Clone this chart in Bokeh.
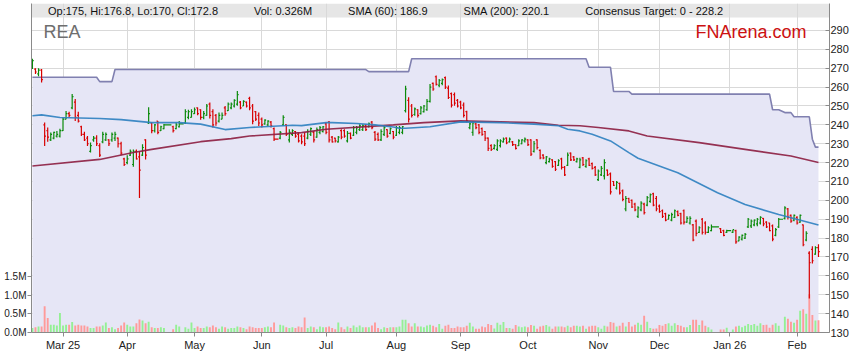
import numpy as np
import pandas as pd
from bokeh.plotting import figure
from bokeh.models import (ColumnDataSource, Range1d, LinearAxis, FixedTicker, BoxAnnotation,
                          Legend, LegendItem, Label, PrintfTickFormatter)
from bokeh.embed import file_html
from bokeh.resources import INLINE

# ---------------- data ----------------
TICKER = "REA"
SITE = "FNArena.com"
FIRST_SESSION = "2025-02-17"
LAST_SESSION = "2026-02-11"
HOLIDAYS = ["2025-04-18", "2025-04-21", "2025-04-25", "2025-06-09",
            "2025-12-25", "2025-12-26", "2026-01-01", "2026-01-26"]

OPEN = [
    270, 269.5, 267, 269, 240, 237, 232, 233, 234, 234,
    237, 243, 246, 249, 252, 245, 239, 235, 233, 226,
    232, 233, 229, 231, 232, 232, 232, 233, 233, 230,
    222, 220, 224, 219, 226, 223, 224, 232, 241, 241,
    237, 242, 237, 238,
    239, 238, 239,
    241, 244, 244, 246, 249, 248, 244, 245, 251, 247,
    245, 242, 243, 249, 247.5, 249, 250, 251, 252, 250,
    252, 254, 250, 247, 245, 243, 240.5, 240, 241.5, 238,
    233, 240, 240, 232, 235, 236.5, 235, 234, 234, 233,
    235, 236, 233.5, 236, 236.5, 240.5, 241.5, 233.5, 233, 231,
    237, 237, 231.5, 235.5, 234.5, 236, 237.5, 237.5, 239.5, 239,
    241.5, 236, 235, 232, 235, 237.5, 235.5, 236.5, 234.5, 236,
    236, 247.5, 253, 250, 245.5, 248, 246, 247, 248, 252.5,
    262, 265.5, 261, 262, 265, 259.5, 256.5, 256, 253, 252,
    250.5, 247, 238.5, 236, 240.5, 240, 238, 236.5, 233, 229,
    227.5, 227, 229, 231, 233, 231, 231, 229.5, 229, 230,
    231.5, 232, 232, 226, 232, 226.5, 224, 220, 220.5, 221.5,
    220.5, 218.5, 222, 217.5, 218.5, 225, 223, 220.5, 217.5, 222.5,
    218, 222, 219.5, 217.5, 211, 213.5, 213, 216, 214, 210,
    206.5, 209, 205, 195.5, 201, 200, 198, 191.5, 195, 198,
    197.5, 199.5, 203.5, 201, 197, 194.5, 193, 190, 189.5, 191,
    194, 193, 194.5, 188.5, 188, 187, 189, 183, 190, 188,
    183, 184,
    185, 184, 183,
    183, 184, 178.5, 179.5, 180, 186, 186.5, 187, 187.5, 188,
    190.5, 188.5, 188, 186.5, 181.5, 186,
    190.5, 195.5, 192, 189.5, 191, 188.5, 187, 179, 172, 174, 171.5, 175,
]
HIGH = [
    275, 270, 270, 269.6, 241.2, 238.6, 235.9, 236.3, 236.8, 238,
    243.9, 247.4, 246.9, 256.3, 253.7, 246.9, 239.5, 236.3, 234.1, 230.6,
    234.1, 234.5, 230.2, 236.3, 235.9, 232.4, 235.9, 236.3, 233.3, 231,
    222.6, 223.9, 227, 227, 227, 226, 229.7, 232.4, 249.4, 241.2,
    240.4, 242.1, 239.5, 240.4,
    239.5, 241.2, 242.1,
    248.3, 248, 248.3, 249.2, 249.2, 248.3, 247.4, 251, 251.9, 248.3,
    245.7, 246.5, 246.5, 250, 251.9, 251.9, 253.6, 258, 252.7, 253.1,
    252.4, 254.9, 251, 247.4, 246.5, 243.9, 243, 242.5, 242.1, 238.6,
    236.8, 245.1, 240.3, 237.7, 237.7, 236.8, 235.9, 235, 235.9, 237.7,
    238.6, 236.8, 238.6, 239.4, 239.4, 241.2, 242.1, 234.1, 233.2, 234.1,
    237.7, 237.7, 236.8, 235.9, 239.4, 239.4, 240.3, 240.3, 240.3, 241.2,
    242.1, 236.8, 235.9, 237.7, 239.4, 237.7, 238.6, 236.8, 239.4, 239.4,
    239.4, 260.7, 254.6, 251, 249.2, 248.3, 250, 250.5, 253.7, 261.6,
    262.5, 266.1, 264.3, 264.5, 265.6, 260.8, 257.2, 257.2, 253.7, 252.8,
    251.9, 247.5, 241.3, 242.1, 241.2, 240.4, 238.6, 236.8, 233.3, 229.7,
    229.7, 232.4, 232.4, 233.3, 233.3, 233.3, 231.5, 229.7, 232.4, 232.4,
    233.3, 232.4, 232.4, 231.5, 232.4, 227, 224.4, 223.5, 222.6, 221.8,
    220.9, 221.8, 222.6, 218.2, 225.3, 225.3, 223.5, 222.6, 222.6, 223,
    221.8, 222.6, 220, 218.2, 216.4, 218.2, 221.8, 216.4, 214.7, 210.2,
    210.2, 209.3, 205.8, 202.3, 201.4, 200.5, 198.7, 196.9, 199.6, 198.7,
    202.3, 203.7, 204, 202.3, 197.8, 195.2, 193.4, 192.5, 193.4, 195.2,
    194.6, 193.4, 195.2, 191.6, 191.6, 187.5, 189.8, 186.3, 190.7, 188.9,
    186.3, 187.2,
    185.4, 184.5, 184.5,
    184.5, 184.5, 181, 181.9, 182.7, 190.7, 189.8, 189.8, 190.7, 191.6,
    190.7, 189, 188.1, 187.2, 185.4, 190.7,
    196.9, 196, 192.5, 192.5, 191.6, 192.5, 187.2, 183.6, 173, 175.7, 175.7, 176.8,
]
LOW = [
    269.6, 267, 265.7, 262.5, 228.8, 231, 231.5, 232.4, 233.3, 233.3,
    236.8, 243, 243.9, 248.3, 242.1, 241.2, 234.1, 231.5, 228.8, 225.3,
    231, 228.8, 223, 230.2, 231.5, 228.8, 231, 231.5, 228, 223.9,
    218.2, 219.1, 223.5, 217.8, 221.7, 201.3, 223.5, 221.7, 240.4, 235.5,
    236, 235, 236.8, 237.7,
    235.9, 237.7, 238.6,
    240.4, 243, 243.9, 245.7, 245.1, 242.7, 243, 244.8, 243.4, 238.6,
    239.5, 241.2, 243, 244.8, 247.4, 248.3, 249.2, 250.1, 248.3, 250,
    249.2, 247.8, 240.3, 242.1, 239.4, 238.6, 240, 239.4, 238.6, 231.5,
    232.4, 239.4, 234.1, 230.6, 234.1, 233.2, 230.6, 229.7, 228.8, 232.4,
    234.1, 230.6, 233.2, 235, 235.9, 235, 230.6, 230.6, 230.6, 230.6,
    232.4, 233.2, 230.6, 232.4, 234.1, 235, 236.8, 236.8, 236.8, 238.6,
    237.7, 231.5, 231.5, 231.5, 234.1, 233.2, 235, 232.4, 234.1, 235,
    235, 246.5, 241.3, 243.9, 244.8, 243.9, 245.5, 246.5, 247.5, 251.9,
    258.1, 260.8, 259.9, 261, 259, 253.7, 249.2, 250.1, 249.2, 248.3,
    243.9, 241.3, 237.7, 234.2, 237.7, 235, 234.2, 231.5, 226.2, 226.2,
    227, 226.2, 228, 230.6, 229.7, 230.6, 228.8, 227, 228.8, 229.7,
    230.6, 228.8, 223.5, 225.3, 227, 221.8, 221.8, 219.1, 220, 217.3,
    215.6, 218.2, 216.4, 212.9, 218.2, 220.9, 220.9, 220, 217, 218.2,
    217.3, 218.2, 216.4, 212.9, 210.2, 212.9, 211.1, 212.9, 203.1, 207.6,
    205.8, 203.1, 199.6, 194.3, 198.7, 196, 194.3, 190.7, 194.3, 192.5,
    196.9, 198.7, 196.9, 194.3, 193.4, 190.7, 189, 189.8, 189, 190.7,
    191.6, 187.2, 187.2, 188.1, 187.2, 178.3, 181, 182.7, 181.9, 181.9,
    182.7, 183.6,
    182.7, 181, 182.7,
    182.7, 177, 178.3, 178.8, 179.6, 185.4, 185.4, 186.3, 186.3, 187.2,
    186.3, 185.4, 183.6, 178.3, 181, 185.4,
    189.8, 189.8, 188.1, 189, 187.2, 188.1, 175.7, 178.3, 148, 166.5, 171.2, 170,
]
CLOSE = [
    274, 268, 269, 264, 234, 233.5, 235, 236, 235, 237,
    243, 246, 245, 255, 244, 242, 235, 232, 230, 229,
    233, 230, 224, 235, 235, 230, 235, 235, 230, 225,
    219, 222, 226, 226, 222, 216, 228, 224, 246, 237,
    240, 236, 239, 240,
    237, 240, 240.5,
    247, 247, 247, 248, 246, 244, 246, 250, 245, 240,
    241, 245, 245, 246, 251, 251, 253, 256, 249, 252.5,
    250, 249, 242, 243, 241, 240, 242.5, 242, 239.5, 232.5,
    236, 244, 235, 236, 237, 234, 231.5, 231, 230, 236.5,
    238, 232, 237.5, 238.5, 239, 236, 232, 231, 231.5, 233.5,
    233.5, 234, 235.5, 233, 238.5, 238.5, 239.5, 239.5, 237.5, 240.5,
    238.5, 232.5, 232, 236.5, 238.5, 234, 238, 233.5, 238.5, 238.5,
    239, 259, 243, 245, 248.5, 245, 249, 250, 252.5, 260,
    259, 261.5, 263.5, 264, 260, 254.5, 250.5, 251.5, 250, 249,
    245, 242, 240.5, 241, 238.5, 236, 235, 233, 227.5, 227,
    229, 231.5, 231.5, 232.5, 230.5, 232.5, 229.5, 227.5, 231.5, 232,
    232.5, 229.5, 224.5, 230, 228, 222.5, 222.5, 223, 222, 218,
    216.5, 221, 217.5, 213.5, 224, 221.5, 221.5, 222, 221.5, 219,
    221, 218.5, 217, 213.5, 215.5, 217, 220, 213.5, 204.5, 208,
    209.5, 204, 200.5, 201, 199, 196.5, 195, 196, 198.5, 193.5,
    201.5, 203, 197.5, 195.5, 194, 191.5, 189.5, 192, 192.5, 194.5,
    192, 188, 188.5, 190.5, 190.5, 179, 182.5, 185.5, 183, 183,
    185.5, 186,
    183, 181.5, 184,
    184.5, 178, 180.5, 181.5, 182, 190, 189, 189.5, 190, 191,
    187.5, 186, 184, 179.5, 184.5, 190,
    196, 191, 189, 192, 188, 192, 176.5, 182.5, 167, 168, 175, 172.8,
]
VOLUME_M = [
    0.12, 0.14, 0.16, 0.16, 0.70, 0.39, 0.21, 0.21, 0.19, 0.52,
    0.19, 0.21, 0.21, 0.28, 0.19, 0.21, 0.19, 0.19, 0.16, 0.12,
    0.12, 0.16, 0.16, 0.19, 0.27, 0.12, 0.14, 0.09, 0.12, 0.19,
    0.27, 0.21, 0.16, 0.16, 0.25, 0.35, 0.32, 0.25, 0.29, 0.14,
    0.12, 0.12, 0.14, 0.12,
    0.09, 0.21, 0.16,
    0.14, 0.10, 0.27, 0.12, 0.16, 0.12, 0.12, 0.16, 0.14, 0.19,
    0.14, 0.10, 0.16, 0.14, 0.10, 0.12, 0.12, 0.16, 0.14, 0.12,
    0.09, 0.16, 0.14, 0.12, 0.12, 0.12, 0.14, 0.16, 0.14, 0.27,
    0.21, 0.19, 0.14, 0.12, 0.14, 0.12, 0.16, 0.14, 0.40, 0.12,
    0.16, 0.14, 0.09, 0.16, 0.14, 0.14, 0.16, 0.12, 0.09, 0.27,
    0.14, 0.09, 0.16, 0.12, 0.19, 0.14, 0.19, 0.14, 0.14, 0.14,
    0.19, 0.27, 0.12, 0.09, 0.14, 0.12, 0.14, 0.14, 0.14, 0.16,
    0.34, 0.34, 0.25, 0.16, 0.25, 0.16, 0.16, 0.14, 0.19, 0.21,
    0.18, 0.14, 0.23, 0.10, 0.18, 0.21, 0.12, 0.12, 0.16, 0.14,
    0.14, 0.18, 0.26, 0.16, 0.10, 0.10, 0.16, 0.14, 0.23, 0.20,
    0.11, 0.26, 0.21, 0.28, 0.12, 0.12, 0.10, 0.20, 0.16, 0.14,
    0.16, 0.14, 0.20, 0.18, 0.10, 0.16, 0.18, 0.20, 0.16, 0.10,
    0.16, 0.16, 0.16, 0.14, 0.18, 0.14, 0.18, 0.18, 0.16, 0.18,
    0.10, 0.16, 0.18, 0.18, 0.14, 0.10, 0.18, 0.16, 0.28, 0.26,
    0.16, 0.18, 0.26, 0.16, 0.28, 0.16, 0.21, 0.26, 0.21, 0.45,
    0.29, 0.12, 0.10, 0.11, 0.20, 0.18, 0.23, 0.25, 0.18, 0.25,
    0.20, 0.18, 0.14, 0.14, 0.20, 0.34, 0.34, 0.20, 0.32, 0.18,
    0.14, 0.08,
    0.08, 0.08, 0.13,
    0.08, 0.16, 0.18, 0.14, 0.18, 0.23, 0.20, 0.23, 0.18, 0.25,
    0.20, 0.21, 0.13, 0.21, 0.25, 0.18,
    0.42, 0.37, 0.29, 0.26, 0.34, 0.58, 0.62, 0.50, 1.02, 0.47, 0.32, 0.326,
]

# moving averages, read at sample sessions (weekday offset from first session)
SMA60_AT = [0, 3, 9, 22, 29, 39, 48, 55, 63, 71, 74, 85, 88, 96, 98, 106, 112, 118, 120, 122,
            130, 140, 153, 164, 172, 175, 179, 183, 189, 195, 198, 211, 224, 233, 244, 257]
SMA60 = [244.8, 245.3, 243.9, 243.4, 242.8, 241.2, 241.2, 240.4, 237.5, 238.6, 238.9, 239.8,
         239.6, 241.2, 241.2, 240.7, 240.0, 238.9, 238.2, 238.2, 239.0, 241.6, 241.2, 240.4,
         239.5, 237.7, 236.8, 235.0, 231.5, 225.3, 222.3, 214.6, 204.0, 197.8, 192.5, 186.9]
SMA200_AT = [0, 22, 33, 39, 55, 65, 71, 88, 96, 118, 128, 140, 164, 172, 179, 185, 195, 201,
             218, 233, 248, 257]
SMA200 = [218.2, 221.7, 225.4, 227.0, 231.1, 232.7, 234.1, 235.9, 237.7, 240.0, 241.2, 242.1,
          241.2, 239.8, 239.5, 238.6, 236.8, 234.1, 230.6, 227.0, 223.5, 220.1]

# consensus target: value in force from the given weekday offset onwards
TARGET_FROM = [0, 22, 27, 110, 124, 182, 190, 196, 242, 246, 249, 255, 256]
TARGET = [265.2, 262.9, 269.3, 268.2, 275.0, 270.5, 257.7, 256.3, 248.0, 246.5, 244.3, 232.4, 228.2]

MONTH_LABELS = ["Mar 25", "Apr", "May", "Jun", "Jul", "Aug", "Sep", "Oct", "Nov", "Dec", "Jan 26", "Feb"]
PRICE_TICKS = list(range(130, 300, 10))
VOLUME_TICKS_M = [0.0, 0.5, 1.0, 1.5]

# ---------------- derived ----------------
weekdays = pd.bdate_range(FIRST_SESSION, LAST_SESSION)
offsets = np.arange(len(weekdays))
trading = ~weekdays.isin(pd.to_datetime(HOLIDAYS))
x = offsets[trading].astype(float)
n = len(x)
for arr in (OPEN, HIGH, LOW, CLOSE, VOLUME_M):
    assert len(arr) == n, (len(arr), n)

o = np.array(OPEN, float); h = np.array(HIGH, float)
l = np.array(LOW, float); c = np.array(CLOSE, float)
up = c >= o
BAR_UP, BAR_DN = "#0A8A0A", "#D80000"
VOL_UP, VOL_DN = "#94F094", "#FF9A9A"
bar_col = np.where(up, BAR_UP, BAR_DN)
vol_col = np.where(up, VOL_UP, VOL_DN)

nxt = np.append(x[1:], x[-1] + 1)
close_end = np.where(nxt - x > 1, nxt - 0.55, x + 0.42)

src = ColumnDataSource(dict(x=x, o=o, h=h, l=l, c=c, col=bar_col, vcol=vol_col,
                            v=np.array(VOLUME_M), x_open=x - 0.42, x_close=close_end))

tgt_idx = np.searchsorted(TARGET_FROM, x, side="right") - 1
tgt = np.array(TARGET)[tgt_idx]

month_ticks = [int(k) for k in offsets[1:] if weekdays[k].month != weekdays[k - 1].month]
assert len(month_ticks) == len(MONTH_LABELS)

FONT = "Liberation Sans"
Y0, Y1 = 130, 304.3
VOL_TOP = 8.797

p = figure(width=851, height=355, x_range=Range1d(-0.3, 260.6), y_range=Range1d(Y0, Y1),
           y_axis_location="right", output_backend="svg", toolbar_location=None,
           min_border_left=31, min_border_right=20, min_border_top=3, min_border_bottom=23,
           background_fill_color="white", border_fill_color="white", outline_line_color=None)
p.extra_y_ranges = {"vol": Range1d(0, VOL_TOP)}

# header band (behind grid)
p.add_layout(BoxAnnotation(bottom=296.9, fill_color="#E6E6E6", fill_alpha=1.0,
                           line_color=None, level="image"))

# grid
p.xgrid.ticker = FixedTicker(ticks=month_ticks)
p.ygrid.ticker = FixedTicker(ticks=PRICE_TICKS)
for g in (p.xgrid, p.ygrid):
    g.grid_line_color = "#D9D9D9"
    g.grid_line_width = 1

# consensus target area and line
p.varea(x=x, y1=Y0, y2=tgt, fill_color="#E6E6F6")
p.line(x=x, y=tgt, line_color="#8080B0", line_width=1.6)

# volume
p.vbar(x="x", top="v", width=0.62, bottom=0, source=src, y_range_name="vol",
       fill_color="vcol", line_color=None)

# OHLC bars
p.segment(x0="x", y0="l", x1="x", y1="h", source=src, line_color="col", line_width=1.2)
p.segment(x0="x_open", y0="o", x1="x", y1="o", source=src, line_color="col", line_width=1.2)
p.segment(x0="x", y0="c", x1="x_close", y1="c", source=src, line_color="col", line_width=1.2)

# moving averages
p.line(x=SMA200_AT, y=SMA200, line_color="#8C1D40", line_width=1.6, line_alpha=0.9)
p.line(x=SMA60_AT, y=SMA60, line_color="#2C7FC0", line_width=1.6, line_alpha=0.9)

# axes
ax = p.yaxis[0]
ax.ticker = FixedTicker(ticks=PRICE_TICKS)
ax.major_tick_in = 4
ax.major_tick_out = 0
ax.minor_tick_line_color = None
ax.major_label_standoff = 1
ax.axis_line_color = "#8A8A8A"
ax.major_tick_line_color = "#8A8A8A"
ax.major_label_text_font = FONT
ax.major_label_text_font_size = "11px"
ax.major_label_text_color = "#222222"

vax = LinearAxis(y_range_name="vol", ticker=FixedTicker(ticks=VOLUME_TICKS_M),
                 formatter=PrintfTickFormatter(format="%.1fM"))
vax.major_tick_in = 0
vax.major_tick_out = 4
vax.minor_tick_line_color = None
vax.major_label_standoff = 1
vax.axis_line_color = "#8A8A8A"
vax.major_tick_line_color = "#8A8A8A"
vax.major_label_text_font = FONT
vax.major_label_text_font_size = "10px"
vax.major_label_text_color = "#222222"
p.add_layout(vax, "left")

xa = p.xaxis[0]
xa.ticker = FixedTicker(ticks=month_ticks)
xa.major_label_overrides = {t: lab for t, lab in zip(month_ticks, MONTH_LABELS)}
xa.major_tick_in = 0
xa.major_tick_out = 4
xa.minor_tick_line_color = None
xa.major_label_standoff = 2
xa.axis_line_color = "#8A8A8A"
xa.major_tick_line_color = "#8A8A8A"
xa.major_label_text_font = FONT
xa.major_label_text_font_size = "11px"
xa.major_label_text_color = "#222222"

# ticker name and site
p.add_layout(Label(x=3.6, y=289.2, text=TICKER, text_baseline="middle", text_align="left",
                   text_font=FONT, text_font_size="18px", text_color="#6E6E6E"))
p.add_layout(Label(x=253.1, y=289.2, text=SITE, text_baseline="middle", text_align="right",
                   text_font=FONT, text_font_size="18px", text_color="#CC1111"))

# legend swatches
def swatch(color):
    return p.quad(left=[], right=[], top=[], bottom=[], fill_color=color, line_color="black",
                  line_width=1)

items = [
    (f"Op:{OPEN[-1]:g}, Hi:{HIGH[-1]:g}, Lo:{LOW[-1]:g}, Cl:{CLOSE[-1]:g}", "#CC0000"),
    (f"Vol: {VOLUME_M[-1]:.3f}M", "#FF9999"),
    (f"SMA (60): {SMA60[-1]:.1f}", "#005A9C"),
    (f"SMA (200): {SMA200[-1]:.1f}", "#7A0A2E"),
    (f"Consensus Target: 0 - {TARGET[-1]:.1f}", "#6A6A9E"),
]
legend = Legend(items=[LegendItem(label=lab, renderers=[swatch(col)]) for lab, col in items],
                orientation="horizontal", location=(5, 315), padding=0, margin=0, spacing=24,
                label_standoff=4, glyph_width=8, glyph_height=8, label_height=10,
                label_text_font=FONT, label_text_font_size="11px", label_text_color="#111111",
                background_fill_alpha=0, border_line_alpha=0)
p.add_layout(legend)

open("out.html", "w").write(file_html(p, INLINE))
